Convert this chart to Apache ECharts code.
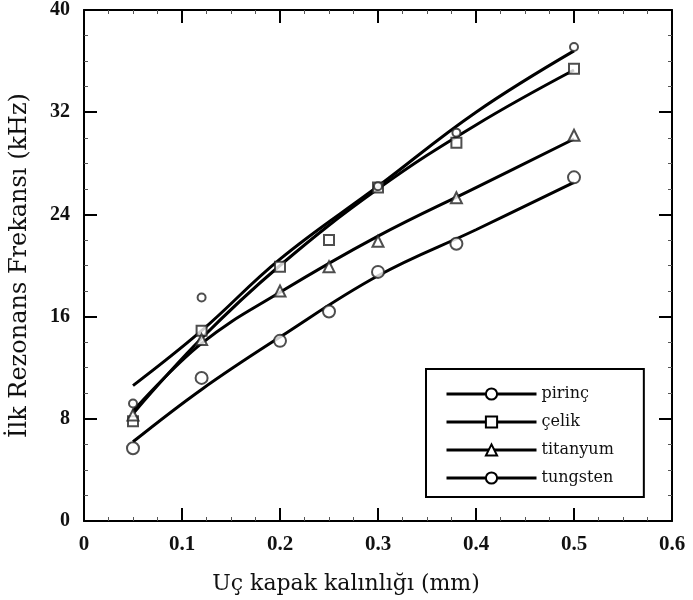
<!DOCTYPE html>
<html>
<head>
<meta charset="utf-8">
<script src="https://cdn.jsdelivr.net/npm/echarts@6/dist/echarts.min.js"></script>
<style>
    html, body { margin: 0; padding: 0; background: #fff; }
    #main { width: 693px; height: 600px; }
</style>
</head>
<body>
<div id="main"></div>
<script>
// olculen noktalar (mm, kHz)
var names = ['pirinç', 'çelik', 'titanyum', 'tungsten'];
var symbols = ['emptyCircle', 'emptyRect', 'emptyTriangle', 'emptyCircle'];
var symbolSizes = [12, 10, 11, 8];

var pirincX = [0.05, 0.12, 0.2, 0.25, 0.3, 0.38, 0.5];
var pirincY = [5.7, 11.2, 14.1, 16.4, 19.5, 21.7, 26.9];
var celikX = [0.05, 0.12, 0.2, 0.25, 0.3, 0.38, 0.5];
var celikY = [7.8, 14.9, 19.9, 22.0, 26.1, 29.6, 35.4];
var titanX = [0.05, 0.12, 0.2, 0.25, 0.3, 0.38, 0.5];
var titanY = [8.3, 14.2, 18.0, 19.9, 21.9, 25.3, 30.2];
var tungX = [0.05, 0.12, 0.3, 0.38, 0.5];
var tungY = [9.2, 17.5, 26.2, 30.4, 37.1];

// egri uydurma cizgileri
var fitX = [0.05, 0.12, 0.2, 0.3, 0.4, 0.5];
var pirincFit = [6.2, 10.3, 14.4, 19.2, 22.8, 26.5];
var celikFit = [8.4, 14.3, 20.0, 26.0, 31.0, 35.3];
var titanFit = [8.6, 13.9, 17.9, 22.3, 26.1, 29.9];
var tungFit = [10.6, 14.9, 20.5, 26.2, 32.0, 36.8];

var xTicks = [0, 0.1, 0.2, 0.3, 0.4, 0.5, 0.6];
var yTicks = [0, 8, 16, 24, 32, 40];

var pointX = [pirincX, celikX, titanX, tungX];
var pointY = [pirincY, celikY, titanY, tungY];
var fitY = [pirincFit, celikFit, titanFit, tungFit];

function pairs(xs, ys) {
    var out = [];
    for (var i = 0; i < xs.length; i++) {
        out.push([xs[i], ys[i]]);
    }
    return out;
}

var serif = '"Liberation Serif", "DejaVu Serif", serif';
var wideSerif = '"DejaVu Serif", "Liberation Serif", serif';
var txt = '#111';

var series = [];
names.forEach(function(n, i) {
    series.push({
        name: n,
        type: 'line',
        smooth: 0.4,
        showSymbol: false,
        symbol: symbols[i],
        symbolSize: symbolSizes[i],
        lineStyle: { color: '#000', width: 3 },
        itemStyle: { color: '#000', borderWidth: 1.5 },
        z: 2,
        data: pairs(fitX, fitY[i])
    });
});
names.forEach(function(n, i) {
    series.push({
        name: n,
        type: 'scatter',
        symbol: symbols[i],
        symbolSize: symbolSizes[i],
        itemStyle: { color: '#222', borderWidth: 1.5 },
        z: 3,
        data: pairs(pointX[i], pointY[i])
    });
});

var baseAxis = {
    type: 'value',
    axisLine: { show: true, onZero: false, lineStyle: { color: '#000', width: 2 } },
    axisTick: { show: true, inside: true, length: 13, lineStyle: { color: '#000', width: 2 } },
    minorTick: { show: true, splitNumber: 4, length: 4, lineStyle: { color: '#555', width: 1 } },
    splitLine: { show: false }
};

var chart = echarts.init(document.getElementById('main'));

var option = {
    backgroundColor: '#fff',
    animation: false,
    grid: { left: 82, right: 21, top: 10, bottom: 77 },
    legend: {
        orient: 'vertical',
        left: 426,
        top: 369,
        padding: [17, 30, 11, 19],
        itemGap: 12,
        itemWidth: 90,
        itemHeight: 14,
        borderColor: '#000',
        borderWidth: 2,
        lineStyle: { width: 3 },
        data: names,
        textStyle: { fontFamily: wideSerif, fontSize: 16, color: txt }
    },
    xAxis: [
        Object.assign({}, baseAxis, {
            min: 0, max: 0.6, interval: 0.1,
            name: 'Uç kapak kalınlığı (mm)',
            nameLocation: 'middle',
            nameGap: 52,
            nameTextStyle: { fontFamily: wideSerif, fontSize: 22, color: txt, padding: [0, 64, 0, 0] },
            axisLabel: {
                margin: 13,
                fontFamily: serif, fontSize: 21, fontWeight: 'bold', color: txt,
                formatter: function(v) {
                    var i = xTicks.indexOf(Math.round(v * 10) / 10);
                    return i >= 0 ? String(xTicks[i]) : '';
                }
            }
        }),
        Object.assign({}, baseAxis, {
            position: 'top', min: 0, max: 0.6, interval: 0.1,
            axisLabel: { show: false }
        })
    ],
    yAxis: [
        Object.assign({}, baseAxis, {
            min: 0, max: 40, interval: 8,
            name: 'İlk Rezonans Frekansı (kHz)',
            nameLocation: 'middle',
            nameGap: 52,
            nameTextStyle: { fontFamily: wideSerif, fontSize: 24, color: txt },
            axisLabel: {
                margin: 14,
                fontFamily: serif, fontSize: 20, fontWeight: 'bold', color: txt,
                formatter: function(v) {
                    return yTicks.indexOf(v) >= 0 ? String(v) : '';
                }
            }
        }),
        Object.assign({}, baseAxis, {
            position: 'right', min: 0, max: 40, interval: 8,
            axisLabel: { show: false }
        })
    ],
    series: series
};

chart.setOption(option);
</script>
</body>
</html>
